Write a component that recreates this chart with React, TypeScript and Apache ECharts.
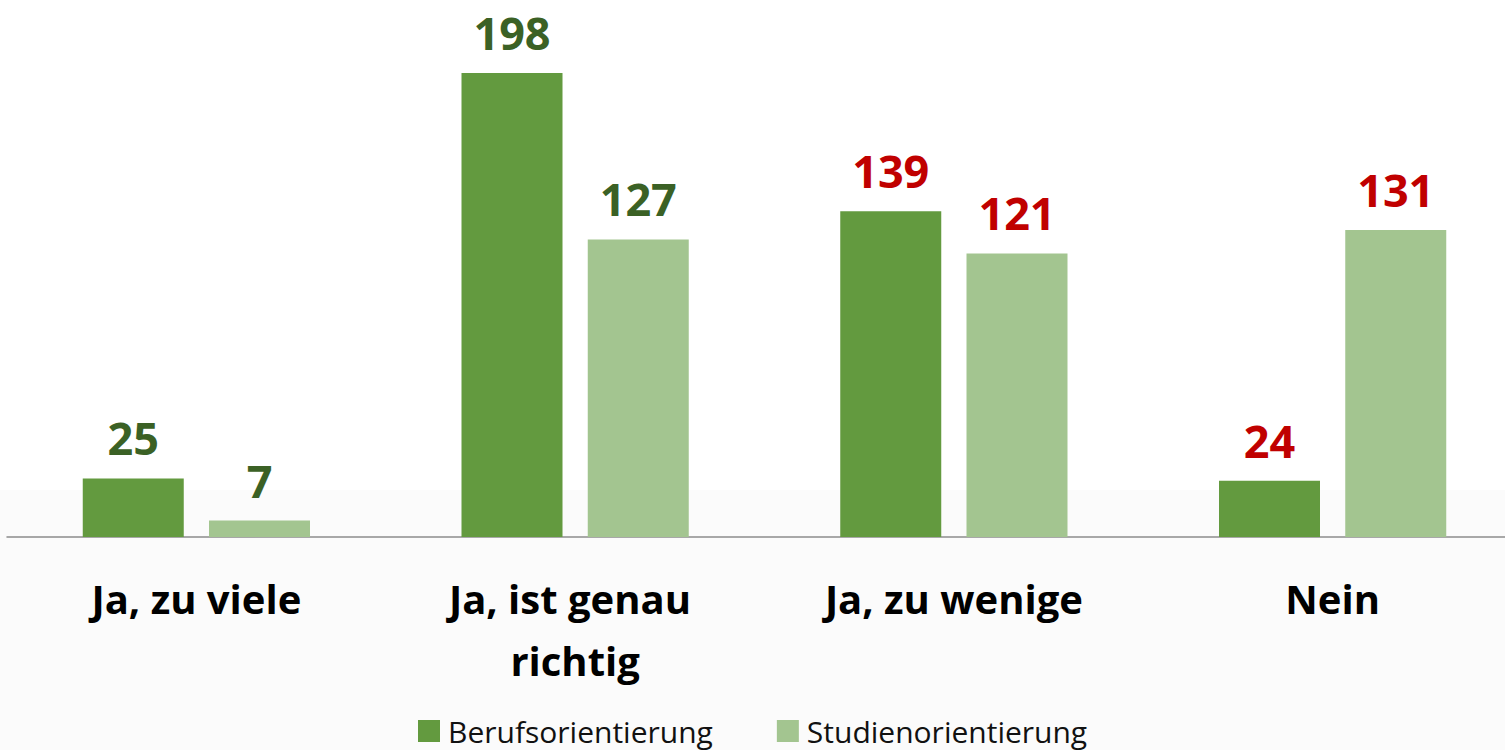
import React, { useEffect, useRef } from "react";
import * as echarts from "echarts";

const categories = ["Ja, zu viele", "Ja, ist genau richtig", "Ja, zu wenige", "Nein"];
const seriesNames = ["Berufsorientierung", "Studienorientierung"];
const beruf = [25, 198, 139, 24];
const studium = [7, 127, 121, 131];
const labelColors = ["#3b6125", "#3b6125", "#c00000", "#c00000"];
const barColors = ["#639a3f", "#a3c590"];

export default function App() {
  const ref = useRef<HTMLDivElement>(null);
  useEffect(() => {
    if (!ref.current) return;
    const chart = echarts.init(ref.current, null, { renderer: "svg" });
    const font = "'Open Sans', 'DejaVu Sans', sans-serif";
    const mk = (vals: number[]) =>
      vals.map((v, i) => ({
        value: v,
        label: { color: labelColors[i] },
      }));
    const valueLabel = {
      show: true,
      position: "top",
      distance: 18,
      fontSize: 45,
      fontWeight: "bold",
      fontFamily: font,
    };
    chart.setOption({
      animation: false,
      backgroundColor: "#ffffff",
      textStyle: { fontFamily: font },
      graphic: [
        {
          type: "rect",
          z: -10,
          silent: true,
          shape: { x: 0, y: 490, width: 1600, height: 300 },
          style: { fill: "#fbfbfb" },
        },
      ],
      legend: {
        data: seriesNames,
        left: 418,
        top: 716,
        padding: 0,
        icon: "rect",
        itemWidth: 22,
        itemHeight: 22,
        itemGap: 64,
        textStyle: {
          fontSize: 30,
          color: "#111",
          fontFamily: font,
          padding: [0, 0, 0, 3],
        },
      },
      grid: { left: 7, width: 1515, top: 73, height: 464, containLabel: false },
      xAxis: {
        type: "category",
        data: categories,
        axisLine: { lineStyle: { color: "#8c8c8c", width: 1.5 } },
        axisTick: { show: false },
        axisLabel: {
          fontSize: 40,
          fontWeight: "bold",
          color: "#000",
          fontFamily: font,
          lineHeight: 62,
          margin: 30,
          width: 330,
          overflow: "break",
          interval: 0,
        },
      },
      yAxis: {
        type: "value",
        min: 0,
        max: 198,
        show: false,
        splitLine: { show: false },
      },
      series: [
        {
          name: seriesNames[0],
          type: "bar",
          data: mk(beruf),
          barWidth: 101,
          barGap: "25%",
          itemStyle: { color: barColors[0] },
          label: valueLabel,
        },
        {
          name: seriesNames[1],
          type: "bar",
          data: mk(studium),
          barWidth: 101,
          barGap: "25%",
          itemStyle: { color: barColors[1] },
          label: valueLabel,
        },
      ],
    });
    return () => chart.dispose();
  }, []);
  return (
    <div
      style={{
        position: "fixed",
        left: 0,
        top: 0,
        width: 1505,
        height: 750,
        overflow: "hidden",
        background: "#fff",
      }}
    >
      <div ref={ref} style={{ width: 1530, height: 750 }} />
    </div>
  );
}
